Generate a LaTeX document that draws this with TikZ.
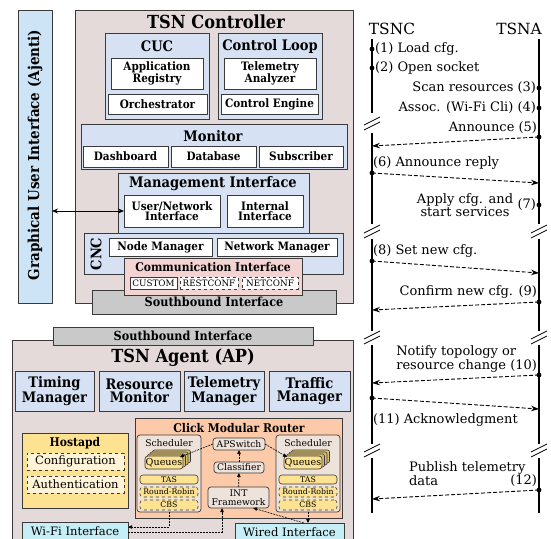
\documentclass[tikz,border=0pt]{standalone}
\usepackage{fontspec}
\setmainfont{DejaVu Serif}[BoldFeatures={FakeStretch=0.9}]
\usetikzlibrary{arrows.meta,calc}
\definecolor{ctrlbg}{HTML}{E4DADA}
\definecolor{guibg}{HTML}{CDE4F7}
\definecolor{blu}{HTML}{D6E2F3}
\definecolor{commbg}{HTML}{F4D3D3}
\definecolor{sbbg}{HTML}{C9C9C9}
\definecolor{hostbg}{HTML}{FDE292}
\definecolor{cream}{HTML}{FFF4D8}
\definecolor{clickbg}{HTML}{FCCAA8}
\definecolor{schbg}{HTML}{EEE3DB}
\definecolor{ifbg}{HTML}{C6EEF6}
\definecolor{qback}{HTML}{D9BD6E}
\definecolor{edge}{HTML}{3A3A3A}
\newcommand\myfs[2]{\fontsize{#1}{#2}\selectfont}
\newcommand\bx[7][]{\node[#1,minimum width={#5-#3},minimum height={#6-#4}] (#2) at ({(#3+#5)/2},{(#4+#6)/2}) {#7};}
\newcommand\brk[2]{\draw[line width=0.7pt] ({#1-8},{#2+1})--({#1+8},{#2-7}); \draw[line width=0.7pt] ({#1-8},{#2+6})--({#1+8},{#2-2});}
\tikzset{
 every node/.style={inner sep=0pt,outer sep=0pt,align=center},
 fr/.style={draw=edge,line width=0.9pt},
 outerbox/.style={fr,fill=ctrlbg},
 grp/.style={fr,fill=blu},
 wbox/.style={fr,fill=white,font=\myfs{11.6}{10.5}\bfseries},
 t16/.style={font=\myfs{18}{18}\bfseries},
 t13/.style={font=\myfs{14.5}{14}\bfseries},
 t12/.style={font=\myfs{12}{12}\bfseries},
 sbox/.style={fr,fill=sbbg,font=\myfs{12.5}{12}\bfseries},
 proto/.style={draw=edge,line width=0.6pt,fill=white,font=\myfs{8.8}{8}},
 mgr/.style={fr,fill=blu,font=\myfs{14.5}{13.5}\bfseries},
 hbox/.style={draw=edge,line width=0.8pt,dashed,fill=cream,font=\myfs{11.5}{11.5}},
 rbox/.style={draw=edge,line width=0.7pt,rounded corners=3pt,fill=schbg,font=\myfs{9.2}{9}},
 pill/.style={draw=edge,line width=0.6pt,rounded corners=3pt,fill=hostbg,font=\myfs{7.8}{8}},
 dpill/.style={pill,dashed},
 ifbox/.style={fr,fill=ifbg,font=\myfs{11.6}{12}},
 flow/.style={line width=0.6pt,dash pattern=on 2pt off 1pt,-{Triangle[length=4pt,width=3.5pt]}},
 life/.style={line width=1.5pt},
 msg/.style={line width=0.9pt,dash pattern=on 4pt off 2pt,-{Stealth[length=8pt,width=5.5pt]}},
 lbl/.style={font=\myfs{13}{12}},
}
\begin{document}
\begin{tikzpicture}[x=1pt,y=-1pt]
\useasboundingbox (0,0) rectangle (551,538);
% GUI
\bx[fr,fill=guibg]{gui}{18}{10}{52}{303}{}
\node[rotate=90,font=\myfs{15}{15}\bfseries] (guiT) at (35,155) {Graphical User Interface (Ajenti)};
% Controller
\bx[outerbox]{ctrl}{75}{10}{353}{303}{}
\node[t16] (ctrlT) at (216,22) {TSN Controller};
\bx[grp]{cuc}{105}{33}{209}{119}{}
\node[t13] (cucT) at (157,46) {CUC};
\bx[wbox]{appreg}{111}{58}{203}{89}{Application\\Registry}
\bx[wbox]{orch}{108}{94}{207}{114}{Orchestrator}
\bx[grp]{cl}{218}{33}{322}{119}{}
\node[t13] (clT) at (270,46) {Control Loop};
\bx[wbox]{tele}{224}{58}{316}{89}{Telemetry\\Analyzer}
\bx[wbox]{ceng}{221}{94}{318}{114}{Control Engine}
\bx[grp]{mon}{81}{124}{347}{169}{}
\node[t13] (monT) at (213,136) {Monitor};
\bx[wbox]{dashb}{83}{146}{168}{167}{Dashboard}
\bx[wbox]{db}{171}{146}{256}{167}{Database}
\bx[wbox]{subs}{259}{146}{343}{167}{Subscriber}
\bx[grp]{mgmt}{118}{173}{309}{233}{}
\node[t13] (mgmtT) at (213,184) {Management Interface};
\bx[wbox]{un}{124}{195}{220}{227}{User/Network\\Interface}
\bx[wbox]{ii}{227}{195}{303}{227}{Internal\\Interface}
\bx[grp]{cnc}{84}{233}{343}{274}{}
\node[rotate=90,t13] (cncT) at (96,254) {CNC};
\bx[wbox]{nodem}{109}{238}{212}{256}{Node Manager}
\bx[wbox]{netm}{217}{238}{337}{256}{Network Manager}
\bx[sbox]{sbc}{92}{290}{336}{314}{Southbound Interface}
\bx[fr,fill=commbg]{comm}{124}{258}{302}{295}{}
\node[font=\myfs{12}{11}\bfseries] (commT) at (213,267) {Communication Interface};
\bx[proto]{cust}{130}{277}{177}{289}{CUSTOM}
\bx[proto,dashed]{rest}{180}{277}{238}{289}{RESTCONF}
\bx[proto,dashed]{netc}{242}{277}{298}{289}{NETCONF}
\draw[line width=0.8pt,{Stealth[length=6pt,width=5pt]}-{Stealth[length=6pt,width=5pt]}] (gui.east |- un.west) -- (un.west);
% Agent
\bx[outerbox]{agent}{12}{340}{353}{560}{}
\bx[sbox]{sba}{53}{327}{313}{345}{Southbound Interface}
\node[t16] (agT) at (183,358) {TSN Agent (AP)};
\bx[mgr]{timm}{15}{371}{94}{411}{Timing\\Manager}
\bx[mgr]{resm}{99}{371}{180}{411}{Resource\\Monitor}
\bx[mgr]{telm}{184}{371}{264}{411}{Telemetry\\Manager}
\bx[mgr]{trfm}{269}{371}{350}{411}{Traffic\\Manager}
\bx[fr,fill=hostbg]{host}{22}{433}{128}{508}{}
\node[t12] (hostT) at (75,443) {Hostapd};
\bx[hbox]{conf}{27}{453}{124}{470}{Configuration}
\bx[hbox]{auth}{27}{476}{124}{493}{Authentication}
\bx[fr,fill=clickbg]{click}{135}{418}{342}{518}{}
\node[t12] (clickT) at (239,428) {Click Modular Router};
% left scheduler
\bx[rbox]{lsch}{137}{435}{201}{512}{}
\node[font=\myfs{9.2}{9}] (lschT) at (169,443) {Scheduler};
\foreach \k in {3,2,1} \draw[draw=edge,line width=0.6pt,rounded corners=2pt,fill=qback] ({145+2.5*\k},{456-2*\k}) rectangle ({183+2.5*\k},{469-2*\k});
\bx[rbox,fill=hostbg,font=\myfs{9.6}{9}]{lq}{145}{456}{183}{469}{Queues}
\bx[pill]{ltas}{140}{475}{198}{484}{TAS}
\bx[dpill]{lrr}{140}{487}{198}{497}{Round-Robin}
\bx[dpill]{lcbs}{140}{500}{198}{510}{CBS}
% right scheduler
\bx[rbox]{rsch}{276}{435}{340}{512}{}
\node[font=\myfs{9.2}{9}] (rschT) at (308,443) {Scheduler};
\foreach \k in {3,2,1} \draw[draw=edge,line width=0.6pt,rounded corners=2pt,fill=qback] ({284+2.5*\k},{456-2*\k}) rectangle ({322+2.5*\k},{469-2*\k});
\bx[rbox,fill=hostbg,font=\myfs{9.6}{9}]{rq}{284}{456}{322}{469}{Queues}
\bx[pill]{rtas}{279}{475}{337}{484}{TAS}
\bx[dpill]{rrr}{279}{487}{337}{497}{Round-Robin}
\bx[dpill]{rcbs}{279}{500}{337}{510}{CBS}
% middle
\bx[rbox]{aps}{213}{438}{265}{450}{APSwitch}
\bx[rbox]{cls}{214}{462}{264}{473}{Classifier}
\bx[rbox]{intf}{208}{487}{269}{508}{INT\\Framework}
\bx[ifbox]{wifi}{22}{522}{128}{541}{Wi-Fi Interface}
\bx[ifbox]{wired}{235}{523}{344}{541}{Wired Interface}
\draw[flow] (aps.west) -- ([xshift=-3pt,yshift=-1pt]lq.north east);
\draw[flow] (aps.east) -- ([xshift=3pt,yshift=-1pt]rq.north west);
\draw[flow] (cls) -- (aps);
\draw[flow] (intf) -- (cls);
\draw[flow] ([xshift=14.5pt]wired.north) -- ([xshift=14.5pt]intf.south);
\draw[flow] (rsch.south) -- (wired.north -| rsch.south);
\draw[flow] (lsch.south) |- ([yshift=4.5pt]wifi.east);
\draw[flow] ([yshift=-0.5pt]wifi.east) -| ([xshift=-16.5pt]intf.south);
% Sequence diagram
\node[font=\myfs{15.4}{16}] (tsnc) at (392,29) {TSNC};
\node[font=\myfs{15.4}{16}] (tsna) at (519,29) {TSNA};
\draw[life] (372,39) -- (372,113);
\draw[life] (372,133) -- (372,224);
\draw[life] (372,239) -- (372,331);
\draw[life] (372,345) -- (372,444);
\draw[life] (372,458) -- (372,513);
\draw[life] (539,39) -- (539,224);
\draw[life] (539,239) -- (539,331);
\draw[life] (539,345) -- (539,444);
\draw[life] (539,458) -- (539,513);
\brk{372}{124}
\brk{372}{232}
\brk{539}{232}
\brk{372}{338}
\brk{539}{338}
\brk{372}{451}
\brk{539}{451}
\foreach \p in {(372,49),(372,68),(539,88),(539,108),(539,137),(372,173),(539,205),(372,261),(539,302),(539,375),(372,398),(539,490)} \fill \p circle (2.4);
\node[lbl,anchor=west] (l1) at (375,49) {(1) Load cfg.};
\node[lbl,anchor=west] (l2) at (375,68) {(2) Open socket};
\node[lbl,anchor=east] (l3) at (536,88) {Scan resources (3)};
\node[lbl,anchor=east] (l4) at (536,108) {Assoc. (Wi-Fi Cli) (4)};
\node[lbl,anchor=east] (l5) at (537,128) {Announce (5)};
\node[lbl,anchor=west] (l6) at (373,163) {(6) Announce reply};
\node[lbl] (l7) at (465,205) {Apply cfg. and\\start services};
\node[lbl,anchor=east] (l7n) at (536,205) {(7)};
\node[lbl,anchor=west] (l8) at (373,251) {(8) Set new cfg.};
\node[lbl,anchor=east] (l9) at (537,292) {Confirm new cfg. (9)};
\node[lbl,anchor=east,align=left] (l10) at (537,359) {Notify topology or\\resource change (10)};
\node[lbl,anchor=west] (l11) at (373,420) {(11) Acknowledgment};
\node[lbl,anchor=west,align=left] (l12) at (409,474) {Publish telemetry\\data};
\node[lbl,anchor=east] (l12n) at (537,481) {(12)};
\coordinate (s5) at (539,137); \coordinate (e5) at (372,146);
\coordinate (s6) at (372,173); \coordinate (e6) at (539,183);
\coordinate (s8) at (372,261); \coordinate (e8) at (539,273);
\coordinate (s9) at (539,302); \coordinate (e9) at (372,310);
\coordinate (s10) at (539,375); \coordinate (e10) at (372,383);
\coordinate (s11) at (372,398); \coordinate (e11) at (539,409);
\coordinate (s12) at (539,490); \coordinate (e12) at (372,499);
\foreach \a/\b in {s5/e5,s6/e6,s8/e8,s9/e9,s10/e10,s11/e11,s12/e12} \draw[msg] (\a) -- (\b);
\end{tikzpicture}
\end{document}
